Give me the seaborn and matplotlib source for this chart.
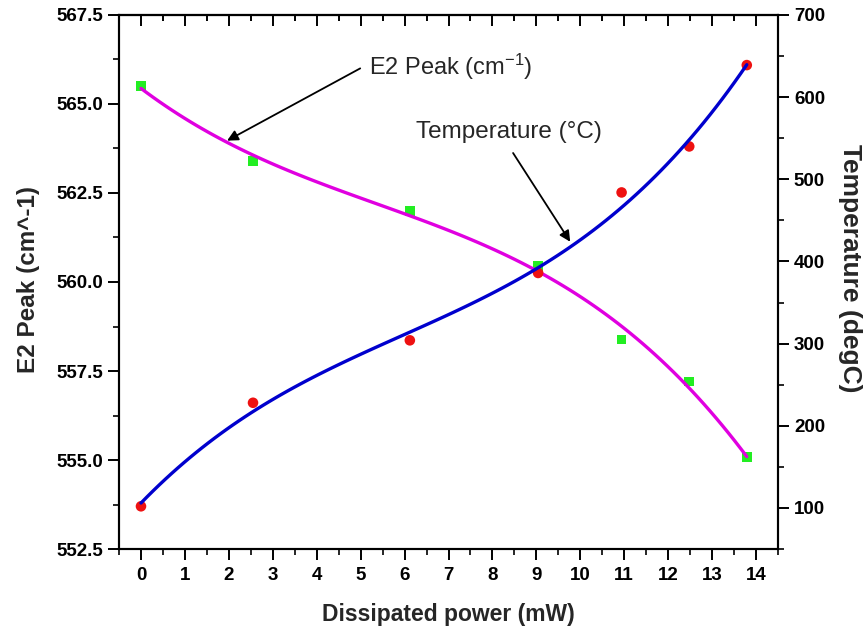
import numpy as np
import pandas as pd
import matplotlib
matplotlib.use("Agg")
import matplotlib.pyplot as plt
from matplotlib.ticker import MultipleLocator
import seaborn as sns

# Measured data
power_mw = [0.0, 2.55, 6.12, 9.04, 10.94, 12.48, 13.79]
e2_peak = [565.5, 563.4, 562.0, 560.45, 558.39, 557.2, 555.09]
temperature_c = [102, 228, 304, 386, 484, 540, 639]

x_ticks = list(range(0, 15))
e2_ticks = [552.5, 555.0, 557.5, 560.0, 562.5, 565.0, 567.5]
temp_ticks = [100, 200, 300, 400, 500, 600, 700]

df = pd.DataFrame({"power": power_mw, "e2": e2_peak, "temp": temperature_c})

sns.set_theme(style="white")
plt.rcParams["font.family"] = ["Liberation Sans", "DejaVu Sans"]
plt.rcParams["mathtext.fontset"] = "custom"
plt.rcParams["mathtext.rm"] = "Liberation Sans"
plt.rcParams["mathtext.it"] = "Liberation Sans:italic"

fig = plt.figure(figsize=(8.65, 6.32), dpi=100)
ax = fig.add_axes([0.1376, 0.1313, 0.7618, 0.845])
ax2 = ax.twinx()

# E2 peak: cubic fit + square markers (left axis)
sns.regplot(data=df, x="power", y="e2", order=3, ci=None, ax=ax,
            marker="s", color="#E000E0",
            scatter_kws={"s": 48, "color": "#22EE22", "edgecolors": "none", "zorder": 2, "alpha": 1},
            line_kws={"lw": 2.4, "color": "#E000E0", "zorder": 3})

# Temperature: cubic fit + round markers (right axis)
sns.regplot(data=df, x="power", y="temp", order=3, ci=None, ax=ax2,
            marker="o", color="#0000CD",
            scatter_kws={"s": 58, "color": "#EE1111", "edgecolors": "none", "zorder": 2, "alpha": 1},
            line_kws={"lw": 2.4, "color": "#0000CD", "zorder": 3})

ax.set_xlim(-0.5, 14.5)
ax.set_ylim(552.5, 567.5)
ax2.set_ylim(50, 700)

ax.set_xticks(x_ticks)
ax.xaxis.set_minor_locator(MultipleLocator(0.5))
ax.set_yticks(e2_ticks)
ax.set_yticklabels([f"{v:.1f}" for v in e2_ticks])
ax.yaxis.set_minor_locator(MultipleLocator(1.25))
ax2.set_yticks(temp_ticks)
ax2.yaxis.set_minor_locator(MultipleLocator(50))

for a in (ax, ax2):
    for s in a.spines.values():
        s.set_linewidth(1.5)
        s.set_color("black")

tick_font = {"labelsize": 13.5, "width": 1.4, "color": "black", "labelcolor": "black"}
ax.tick_params(axis="x", which="major", direction="out", length=8, bottom=True, pad=5, **tick_font)
ax.tick_params(axis="x", which="minor", direction="out", length=4.5, bottom=True, width=1.4)
ax.tick_params(axis="y", which="major", direction="out", length=8, left=True, right=False, **tick_font)
ax.tick_params(axis="y", which="minor", direction="out", length=4.5, left=True, right=False, width=1.4)
ax2.tick_params(axis="y", which="major", direction="out", length=8, right=True, **tick_font)
ax2.tick_params(axis="y", which="minor", direction="out", length=4.5, right=True, width=1.4)
for lab in ax.get_xticklabels() + ax.get_yticklabels() + ax2.get_yticklabels():
    lab.set_fontweight("bold")

# Inward ticks along the top edge
top = ax.secondary_xaxis("top")
top.set_xticks(x_ticks)
top.xaxis.set_minor_locator(MultipleLocator(0.5))
top.tick_params(axis="x", which="major", direction="in", length=8, width=1.4, labeltop=False, color="black")
top.tick_params(axis="x", which="minor", direction="in", length=4.5, width=1.4, color="black")
top.spines["top"].set_linewidth(1.5)

ax.set_xlabel("Dissipated power (mW)", fontsize=16.5, fontweight="bold")
ax.xaxis.set_label_coords(0.5, -0.102)
ax.set_ylabel("E2 Peak (cm^-1)", fontsize=17.5, fontweight="bold")
ax.yaxis.set_label_coords(-0.12, 0.505)
ax2.set_ylabel("Temperature (degC)", fontsize=19, fontweight="bold", rotation=270, va="center")
ax2.yaxis.set_label_coords(1.11, 0.525)
ax.grid(False)
ax2.grid(False)

# Curve callouts
ax.text(5.2, 566.05, r"E2 Peak (cm$^{-1}$)", fontsize=17, va="center", ha="left")
ax.annotate("", xy=(1.96, 563.97), xytext=(4.99, 566.0),
            arrowprops=dict(arrowstyle="-|>", color="black", lw=1.3, mutation_scale=16,
                            shrinkA=0, shrinkB=0))
ax2.text(6.26, 558, "Temperature (\u00b0C)", fontsize=17.5, va="center", ha="left")
ax2.annotate("", xy=(9.77, 424), xytext=(8.47, 532),
             arrowprops=dict(arrowstyle="-|>", color="black", lw=1.3, mutation_scale=16,
                             shrinkA=0, shrinkB=0))

fig.savefig("out.png", dpi=100, facecolor="white")
